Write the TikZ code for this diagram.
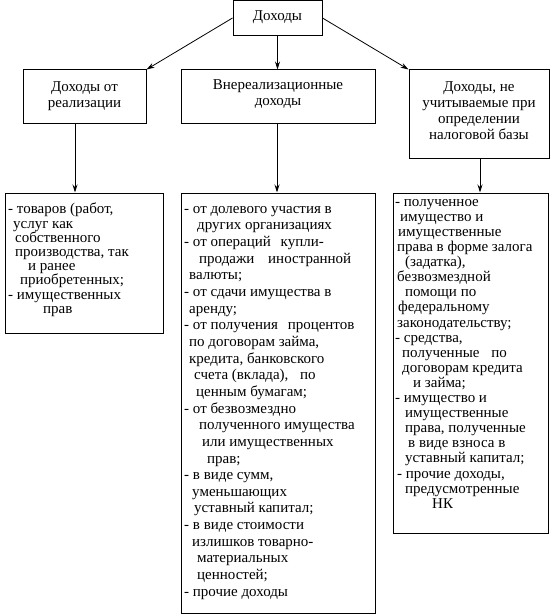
\documentclass[tikz,border=0pt]{standalone}
\usepackage{fontspec}
\setmainfont{Liberation Serif}
\usetikzlibrary{arrows.meta}
\tikzset{
  box/.style={draw, line width=1pt, rectangle, inner sep=0pt},
  head/.style={font=\fontsize{15}{16}\selectfont, align=center, inner sep=0pt},
  item/.style={align=left, inner sep=0pt, anchor=north west},
  arr/.style={line width=0.8pt, -{Stealth[length=8pt,width=5pt]}}
}
\begin{document}
\begin{tikzpicture}[x=1pt,y=-1pt]
\useasboundingbox (0,0) rectangle (550,615);
% top
\node[box, minimum width=89pt, minimum height=35pt] (top) at (277.5,18) {};
\node[head] (topt) at (277.5,17) {Доходы};
% level 2
\node[box, minimum width=123pt, minimum height=53pt] (a) at (84.5,96.5) {};
\node[head] (at) at (84.5,96) {Доходы от\\[0pt]реализации};
\node[box, minimum width=194pt, minimum height=53pt] (b) at (278,96.5) {};
\node[head] (bt) at (278,94) {Внереализационные\\[0pt]доходы};
\node[box, minimum width=140pt, minimum height=88pt] (c) at (479,114) {};
\node[head] (ct) at (479,111) {Доходы, не\\[0pt]учитываемые при\\[0pt]определении\\[0pt]налоговой базы};
% level 3
\node[box, minimum width=158pt, minimum height=140pt] (a3) at (84,263) {};
\node[box, minimum width=194pt, minimum height=420pt] (b3) at (278,403) {};
\node[box, minimum width=155pt, minimum height=340pt] (c3) at (470.5,363) {};
% arrows
\draw[arr] (top.west |- 0,18) -- (a.north east);
\draw[arr] (top.south) -- (top.south |- b.north);
\draw[arr] (top.east |- 0,18) -- (c.north west);
\draw[arr] (a.south -| 75,0) -- (a3.north -| 75,0);
\draw[arr] (b.south -| 277,0) -- (b3.north -| 277,0);
\draw[arr] (c.south -| 480,0) -- (c3.north -| 480,0);
% texts
\node[item, font=\fontsize{15}{14.2}\selectfont] (a3t) at (8,203) {%
- товаров (работ,\\
\hspace*{5pt}услуг как\\
\hspace*{7pt}собственного\\
\hspace*{7pt}производства, так\\
\hspace*{20pt}и ранее\\
\hspace*{12pt}приобретенных;\\
- имущественных\\
\hspace*{35pt}прав};
\node[item, font=\fontsize{15}{16.65}\selectfont] (b3t) at (184,206) {%
- от долевого участия в\\
\hspace*{13pt}других организациях\\
- от операций\hspace{6pt} купли-\\
\hspace*{15pt}продажи\hspace{10pt} иностранной\\
\hspace*{5pt}валюты;\\
- от сдачи имущества в\\
\hspace*{5pt}аренду;\\
- от получения\hspace{6pt} процентов\\
\hspace*{5pt}по договорам займа,\\
\hspace*{5pt}кредита, банковского\\
\hspace*{10pt}счета (вклада),\hspace{8pt} по\\
\hspace*{12pt}ценным бумагам;\\
- от безвозмездно\\
\hspace*{15pt}полученного имущества\\
\hspace*{18pt}или имущественных\\
\hspace*{23pt}прав;\\
- в виде сумм,\\
\hspace*{8pt}уменьшающих\\
\hspace*{10pt}уставный капитал;\\
- в виде стоимости\\
\hspace*{8pt}излишков товарно-\\
\hspace*{13pt}материальных\\
\hspace*{13pt}ценностей;\\
- прочие доходы};
\node[item, font=\fontsize{15}{15.1}\selectfont] (c3t) at (395,199) {%
- полученное\\
\hspace*{5pt}имущество и\\
\hspace*{3pt}имущественные\\
\hspace*{2pt}права в форме залога\\
\hspace*{10pt}(задатка),\\
\hspace*{2pt}безвозмездной\\
\hspace*{10pt}помощи по\\
\hspace*{3pt}федеральному\\
\hspace*{2pt}законодательству;\\
- средства,\\
\hspace*{7pt}полученные\hspace{8pt} по\\
\hspace*{7pt}договорам кредита\\
\hspace*{18pt}и займа;\\
- имущество и\\
\hspace*{10pt}имущественные\\
\hspace*{10pt}права, полученные\\
\hspace*{13pt}в виде взноса в\\
\hspace*{10pt}уставный капитал;\\
\hspace*{2pt}- прочие доходы,\\
\hspace*{10pt}предусмотренные\\
\hspace*{37pt}НК};
\end{tikzpicture}
\end{document}
